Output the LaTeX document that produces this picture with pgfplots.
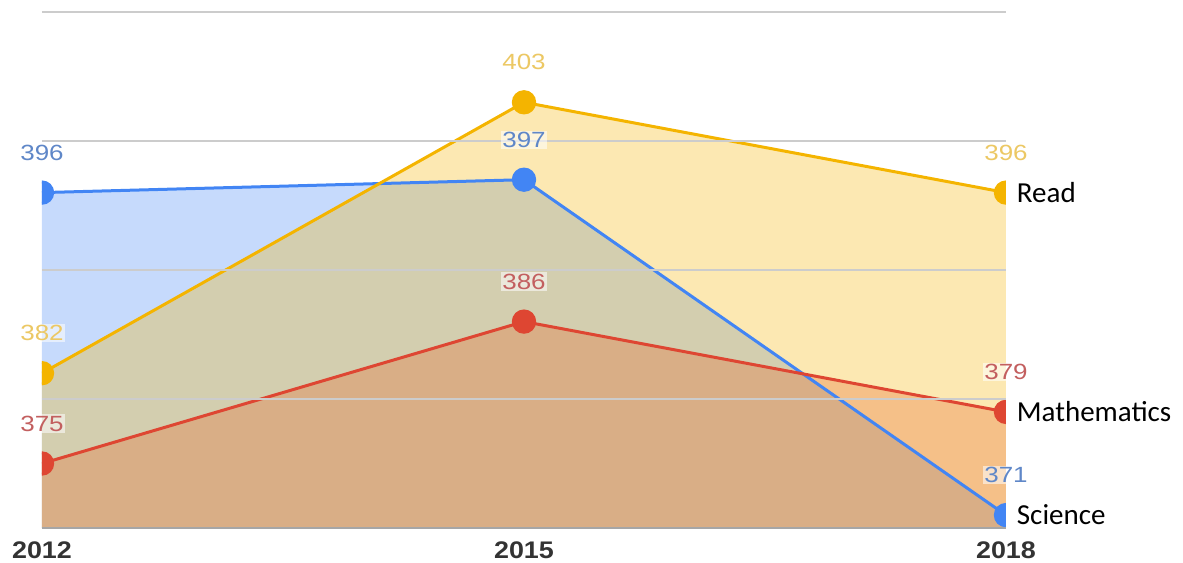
\documentclass[border=0pt]{standalone}
\usepackage{pgfplots}
\usepackage{pgfplotstable}
\pgfplotsset{compat=1.18}
\usepackage{fontspec}
\setmainfont{Liberation Sans}
\newfontfamily\lblfont[FakeStretch=1.18]{Liberation Sans}
\newfontfamily\tickfont[FakeStretch=1.12]{Liberation Sans}
\newfontfamily\sidefont{Carlito}
\definecolor{cblue}{RGB}{66,133,244}
\definecolor{cyellow}{RGB}{244,180,0}
\definecolor{cred}{RGB}{222,70,50}
\definecolor{fred}{RGB}{230,100,40}
\definecolor{lblue}{RGB}{95,135,200}
\definecolor{lyellow}{RGB}{236,200,100}
\definecolor{lred}{RGB}{195,95,95}
\pgfplotstableread{
year science read math
2012 396 382 375
2015 397 403 386
2018 371 396 379
}\data
\begin{document}
\begin{tikzpicture}
\path[use as bounding box] (-31.5pt,-25.5pt) rectangle (855.75pt,396pt);
\begin{axis}[
  at={(0pt,0pt)}, anchor=south west,
  width=723pt, height=387pt, scale only axis,
  xmin=2012, xmax=2018, ymin=370, ymax=410,
  axis line style={draw=none},
  xtick={2012,2015,2018}, xticklabels={2012,2015,2018},
  major tick length=0pt,
  xticklabel style={font=\tickfont\bfseries\fontsize{18}{20}\selectfont, text=black!80, anchor=north, inner sep=0pt, yshift=-9.75pt},
  ytick={380,390,400,410}, yticklabels={},
  extra y ticks={370}, extra y tick labels={},
  extra y tick style={grid style={gray!70, line width=1pt}},
  ymajorgrids, grid style={black!20, line width=0.8pt},
  axis on top,
  clip marker paths=true,
]
\addplot[draw=none, fill=cblue, fill opacity=0.3] table[x=year,y=science]{\data} \closedcycle;
\addplot[draw=none, fill=cyellow, fill opacity=0.3] table[x=year,y=read]{\data} \closedcycle;
\addplot[draw=none, fill=fred, fill opacity=0.3] table[x=year,y=math]{\data} \closedcycle;
\addplot[cblue, line width=2.25pt, mark=*, mark size=8pt, mark options={draw=none, fill=cblue}] table[x=year,y=science]{\data};
\addplot[cyellow, line width=2.25pt, mark=*, mark size=8pt, mark options={draw=none, fill=cyellow}] table[x=year,y=read]{\data};
\addplot[cred, line width=2.25pt, mark=*, mark size=8pt, mark options={draw=none, fill=cred}] table[x=year,y=math]{\data};
\end{axis}
\begin{axis}[
  at={(0pt,0pt)}, anchor=south west,
  width=723pt, height=387pt, scale only axis,
  xmin=2012, xmax=2018, ymin=370, ymax=410,
  hide axis, clip=false,
  nodes near coords, point meta=explicit symbolic,
  every node near coord/.append style={font=\lblfont\fontsize{16.5}{18}\selectfont, anchor=center, yshift=30pt, fill=white, fill opacity=0.55, text opacity=1, inner sep=1pt},
]
\addplot[only marks, mark=*, mark options={opacity=0}, every node near coord/.append style={text=lblue}] table[x=year,y=science,meta=science]{\data};
\addplot[only marks, mark=*, mark options={opacity=0}, every node near coord/.append style={text=lyellow}] table[x=year,y=read,meta=read]{\data};
\addplot[only marks, mark=*, mark options={opacity=0}, every node near coord/.append style={text=lred}] table[x=year,y=math,meta=math]{\data};
\addplot[only marks, mark=*, mark options={opacity=0}, every node near coord/.append style={font=\sidefont\fontsize{21.75}{24}\selectfont, text=black, anchor=west, yshift=-30pt, xshift=8pt, fill=none, inner sep=0pt}] coordinates {(2018,396) [Read] (2018,379) [Mathematics] (2018,371) [Science]};
\end{axis}
\end{tikzpicture}
\end{document}
